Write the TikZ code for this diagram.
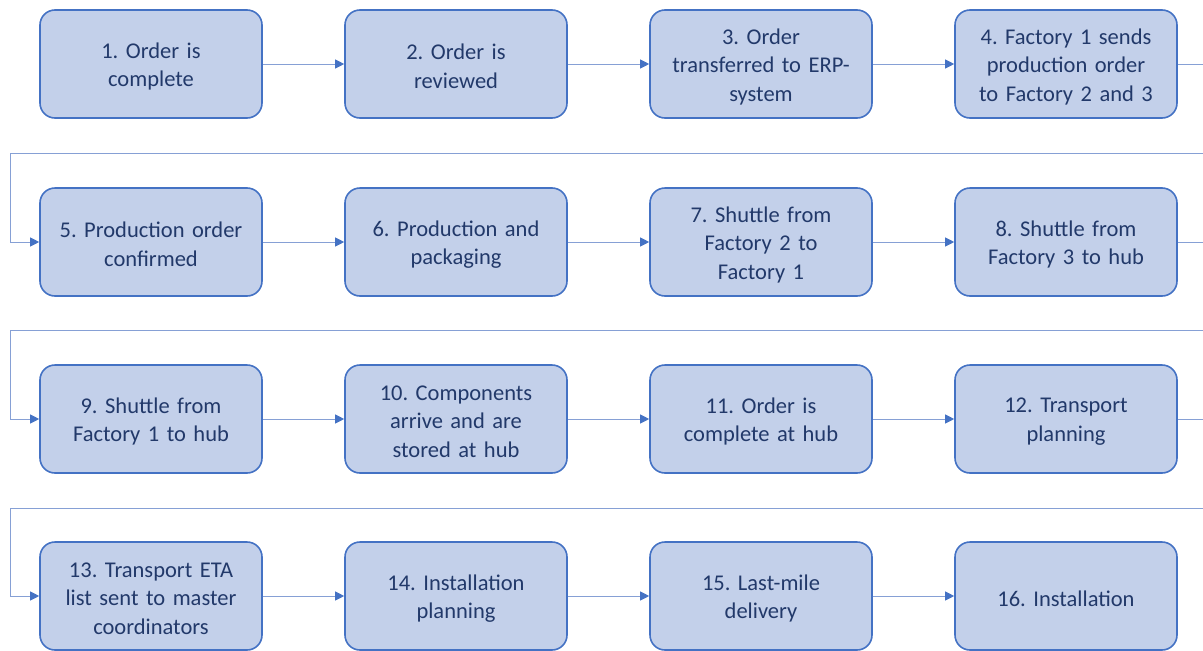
\documentclass[tikz,border=0pt]{standalone}
\usepackage{fontspec}
\setmainfont{Carlito}
\frenchspacing
\usetikzlibrary{arrows.meta}
\definecolor{boxfill}{HTML}{C3D0EA}
\definecolor{boxline}{HTML}{4472C4}
\definecolor{boxtext}{HTML}{22396A}
\definecolor{linkline}{HTML}{86A0D5}
\begin{document}
\begin{tikzpicture}[x=1pt,y=-1pt,
  stepbox/.style={draw=boxline,fill=boxfill,line width=1.6pt,rounded corners=15pt,
    minimum width=222pt,minimum height=108pt,inner sep=0pt,
    label={[steptext]center:#1}},
  steptext/.style={align=center,text=boxtext,inner sep=0pt,yshift=-2.5pt,
    font=\fontsize{22.5}{28.5}\selectfont,text width=215pt},
  conn/.style={draw=linkline,line width=1pt,
    -{Triangle[length=9pt,width=9pt,fill=boxline,color=boxline]}}]
\useasboundingbox (0,0) rectangle (1203,651);
\clip (0,0) rectangle (1203,651);
% row 1
\node[stepbox={1. Order is\\complete}] (n1) at (151,64) {};
\node[stepbox={2. Order is\\reviewed}] (n2) at (456,64) {};
\node[stepbox={3. Order\\transferred to ERP-\\system}] (n3) at (761,64) {};
\node[stepbox={4. Factory 1 sends\\production order\\to Factory 2 and 3}] (n4) at (1066,64) {};
% row 2
\node[stepbox={5. Production order\\confirmed}] (n5) at (151,242) {};
\node[stepbox={6. Production and\\packaging}] (n6) at (456,242) {};
\node[stepbox={7. Shuttle from\\Factory 2 to\\Factory 1}] (n7) at (761,242) {};
\node[stepbox={8. Shuttle from\\Factory 3 to hub}] (n8) at (1066,242) {};
% row 3
\node[stepbox={9. Shuttle from\\Factory 1 to hub}] (n9) at (151,419) {};
\node[stepbox={10. Components\\arrive and are\\stored at hub}] (n10) at (456,419) {};
\node[stepbox={11. Order is\\complete at hub}] (n11) at (761,419) {};
\node[stepbox={12. Transport\\planning}] (n12) at (1066,419) {};
% row 4
\node[stepbox={13. Transport ETA\\list sent to master\\coordinators}] (n13) at (151,596) {};
\node[stepbox={14. Installation\\planning}] (n14) at (456,596) {};
\node[stepbox={15. Last-mile\\delivery}] (n15) at (761,596) {};
\node[stepbox={16. Installation}] (n16) at (1066,596) {};
% turning points of the row wraps
\coordinate (e1) at (1230,153); \coordinate (w1) at (10,153);
\coordinate (e2) at (1230,330); \coordinate (w2) at (10,330);
\coordinate (e3) at (1230,508); \coordinate (w3) at (10,508);
% links within rows
\draw[conn] (n1) -- (n2); \draw[conn] (n2) -- (n3); \draw[conn] (n3) -- (n4);
\draw[conn] (n5) -- (n6); \draw[conn] (n6) -- (n7); \draw[conn] (n7) -- (n8);
\draw[conn] (n9) -- (n10); \draw[conn] (n10) -- (n11); \draw[conn] (n11) -- (n12);
\draw[conn] (n13) -- (n14); \draw[conn] (n14) -- (n15); \draw[conn] (n15) -- (n16);
% links between rows
\draw[conn] (n4.east) -| (e1) -- (w1) |- (n5.west);
\draw[conn] (n8.east) -| (e2) -- (w2) |- (n9.west);
\draw[conn] (n12.east) -| (e3) -- (w3) |- (n13.west);
\end{tikzpicture}
\end{document}
